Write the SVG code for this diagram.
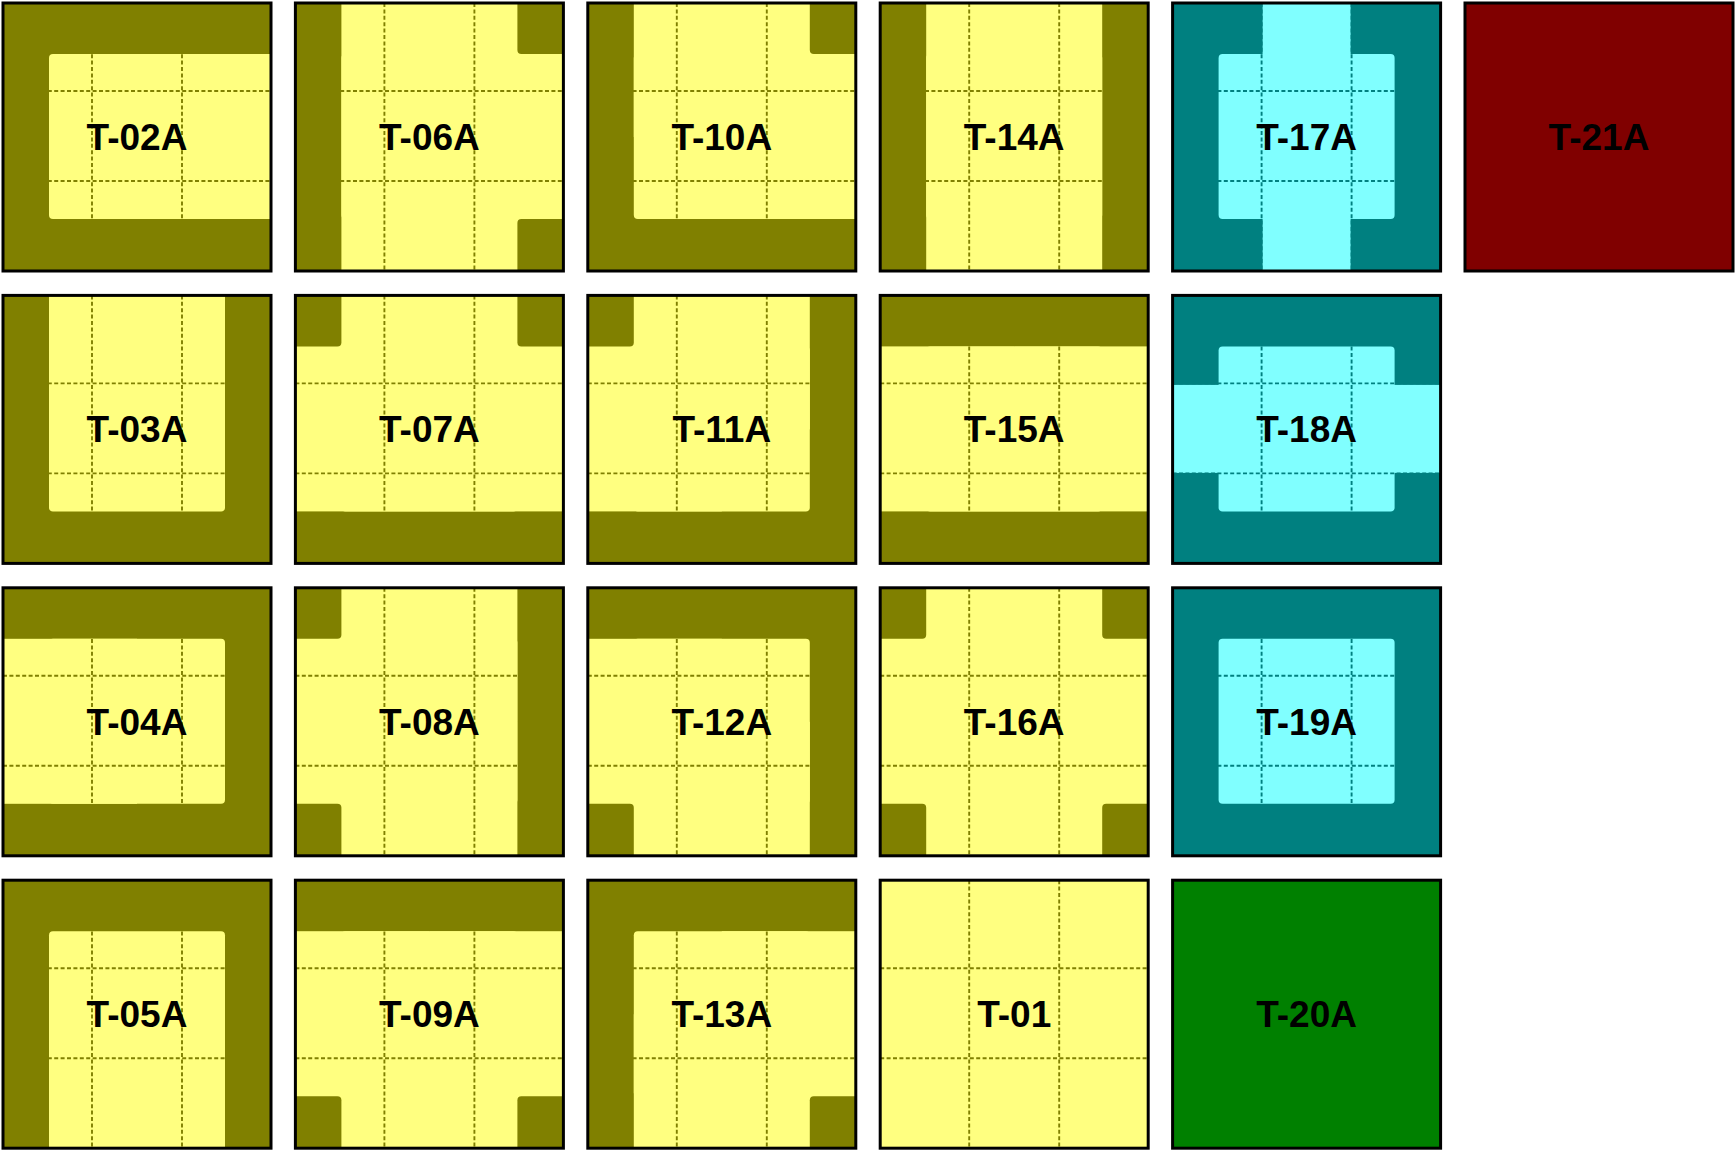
<svg xmlns="http://www.w3.org/2000/svg" xmlns:xlink="http://www.w3.org/1999/xlink" width="1736" height="1151" viewBox="0 0 1736 1151">
<style>
.dy{fill:#808000}
.ly{fill:#ffff80}
.dc{fill:#008080}
.lc{fill:#80ffff}
.mr{fill:#800000}
.gr{fill:#008000}
.gy{fill:none;stroke:#808000;stroke-width:1.9;stroke-dasharray:4 2.4}
.gc{fill:none;stroke:#008080;stroke-width:1.9;stroke-dasharray:4 2.4}
.bd{fill:none;stroke:#000;stroke-width:3}
.t{font-family:"Liberation Sans",Arial,sans-serif;font-size:37px;font-weight:bold;fill:#000;text-anchor:middle}
</style>
<defs>
<rect id="b" x="3" y="3" width="268" height="268"/>
<rect id="c" x="49" y="54" width="176" height="165" rx="4"/>
<rect id="n" x="49" y="3" width="176" height="134"/>
<rect id="s" x="49" y="137" width="176" height="134"/>
<rect id="w" x="3" y="54" width="134" height="165"/>
<rect id="e" x="137" y="54" width="134" height="165"/>
<rect id="fnw" x="3" y="3" width="60" height="60"/>
<rect id="fne" x="211" y="3" width="60" height="60"/>
<rect id="fsw" x="3" y="211" width="60" height="60"/>
<rect id="fse" x="211" y="211" width="60" height="60"/>
<path id="bnw" d="M3 3H49V50A4 4 0 0 1 45 54H3Z"/>
<path id="bne" d="M271 3H225V50A4 4 0 0 0 229 54H271Z"/>
<path id="bsw" d="M3 271H49V223A4 4 0 0 0 45 219H3Z"/>
<path id="bse" d="M271 271H225V223A4 4 0 0 1 229 219H271Z"/>
<rect id="vb" x="93" y="3" width="88" height="268"/>
<rect id="hb" x="3" y="92.5" width="268" height="88"/>
<path id="g" d="M92 3V271M182 3V271M3 91H271M3 181H271"/>
</defs>

<g id="T-02A" transform="translate(0,0)">
<use href="#b" class="dy"/><use href="#c" class="ly"/><use href="#e" class="ly"/>
<use href="#g" class="gy"/><use href="#b" class="bd"/><text x="137" y="150" class="t">T-02A</text>
</g>
<g id="T-06A" transform="translate(292.4,0)">
<use href="#b" class="dy"/><use href="#c" class="ly"/><use href="#n" class="ly"/><use href="#e" class="ly"/><use href="#s" class="ly"/>
<use href="#fne" class="ly"/><use href="#fse" class="ly"/><use href="#bne" class="dy"/><use href="#bse" class="dy"/>
<use href="#g" class="gy"/><use href="#b" class="bd"/><text x="137" y="150" class="t">T-06A</text>
</g>
<g id="T-10A" transform="translate(584.8,0)">
<use href="#b" class="dy"/><use href="#c" class="ly"/><use href="#n" class="ly"/><use href="#e" class="ly"/>
<use href="#fne" class="ly"/><use href="#bne" class="dy"/>
<use href="#g" class="gy"/><use href="#b" class="bd"/><text x="137" y="150" class="t">T-10A</text>
</g>
<g id="T-14A" transform="translate(877.2,0)">
<use href="#b" class="dy"/><use href="#c" class="ly"/><use href="#n" class="ly"/><use href="#s" class="ly"/>
<use href="#g" class="gy"/><use href="#b" class="bd"/><text x="137" y="150" class="t">T-14A</text>
</g>
<g id="T-17A" transform="translate(1169.6,0)">
<use href="#b" class="dc"/><use href="#c" class="lc"/><use href="#vb" class="lc"/>
<use href="#g" class="gc"/><use href="#b" class="bd"/><text x="137" y="150" class="t">T-17A</text>
</g>
<g id="T-21A" transform="translate(1462,0)">
<use href="#b" class="mr"/><use href="#b" class="bd"/><text x="137" y="150" class="t">T-21A</text>
</g>

<g id="T-03A" transform="translate(0,292.4)">
<use href="#b" class="dy"/><use href="#c" class="ly"/><use href="#n" class="ly"/>
<use href="#g" class="gy"/><use href="#b" class="bd"/><text x="137" y="150" class="t">T-03A</text>
</g>
<g id="T-07A" transform="translate(292.4,292.4)">
<use href="#b" class="dy"/><use href="#c" class="ly"/><use href="#w" class="ly"/><use href="#n" class="ly"/><use href="#e" class="ly"/>
<use href="#fnw" class="ly"/><use href="#fne" class="ly"/><use href="#bnw" class="dy"/><use href="#bne" class="dy"/>
<use href="#g" class="gy"/><use href="#b" class="bd"/><text x="137" y="150" class="t">T-07A</text>
</g>
<g id="T-11A" transform="translate(584.8,292.4)">
<use href="#b" class="dy"/><use href="#c" class="ly"/><use href="#n" class="ly"/><use href="#w" class="ly"/>
<use href="#fnw" class="ly"/><use href="#bnw" class="dy"/>
<use href="#g" class="gy"/><use href="#b" class="bd"/><text x="137" y="150" class="t">T-11A</text>
</g>
<g id="T-15A" transform="translate(877.2,292.4)">
<use href="#b" class="dy"/><use href="#c" class="ly"/><use href="#w" class="ly"/><use href="#e" class="ly"/>
<use href="#g" class="gy"/><use href="#b" class="bd"/><text x="137" y="150" class="t">T-15A</text>
</g>
<g id="T-18A" transform="translate(1169.6,292.4)">
<use href="#b" class="dc"/><use href="#c" class="lc"/><use href="#hb" class="lc"/>
<use href="#g" class="gc"/><use href="#b" class="bd"/><text x="137" y="150" class="t">T-18A</text>
</g>

<g id="T-04A" transform="translate(0,584.8)">
<use href="#b" class="dy"/><use href="#c" class="ly"/><use href="#w" class="ly"/>
<use href="#g" class="gy"/><use href="#b" class="bd"/><text x="137" y="150" class="t">T-04A</text>
</g>
<g id="T-08A" transform="translate(292.4,584.8)">
<use href="#b" class="dy"/><use href="#c" class="ly"/><use href="#n" class="ly"/><use href="#w" class="ly"/><use href="#s" class="ly"/>
<use href="#fnw" class="ly"/><use href="#fsw" class="ly"/><use href="#bnw" class="dy"/><use href="#bsw" class="dy"/>
<use href="#g" class="gy"/><use href="#b" class="bd"/><text x="137" y="150" class="t">T-08A</text>
</g>
<g id="T-12A" transform="translate(584.8,584.8)">
<use href="#b" class="dy"/><use href="#c" class="ly"/><use href="#w" class="ly"/><use href="#s" class="ly"/>
<use href="#fsw" class="ly"/><use href="#bsw" class="dy"/>
<use href="#g" class="gy"/><use href="#b" class="bd"/><text x="137" y="150" class="t">T-12A</text>
</g>
<g id="T-16A" transform="translate(877.2,584.8)">
<use href="#b" class="ly"/>
<use href="#bnw" class="dy"/><use href="#bne" class="dy"/><use href="#bsw" class="dy"/><use href="#bse" class="dy"/>
<use href="#g" class="gy"/><use href="#b" class="bd"/><text x="137" y="150" class="t">T-16A</text>
</g>
<g id="T-19A" transform="translate(1169.6,584.8)">
<use href="#b" class="dc"/><use href="#c" class="lc"/>
<use href="#g" class="gc"/><use href="#b" class="bd"/><text x="137" y="150" class="t">T-19A</text>
</g>

<g id="T-05A" transform="translate(0,877.2)">
<use href="#b" class="dy"/><use href="#c" class="ly"/><use href="#s" class="ly"/>
<use href="#g" class="gy"/><use href="#b" class="bd"/><text x="137" y="150" class="t">T-05A</text>
</g>
<g id="T-09A" transform="translate(292.4,877.2)">
<use href="#b" class="dy"/><use href="#c" class="ly"/><use href="#w" class="ly"/><use href="#e" class="ly"/><use href="#s" class="ly"/>
<use href="#fsw" class="ly"/><use href="#fse" class="ly"/><use href="#bsw" class="dy"/><use href="#bse" class="dy"/>
<use href="#g" class="gy"/><use href="#b" class="bd"/><text x="137" y="150" class="t">T-09A</text>
</g>
<g id="T-13A" transform="translate(584.8,877.2)">
<use href="#b" class="dy"/><use href="#c" class="ly"/><use href="#e" class="ly"/><use href="#s" class="ly"/>
<use href="#fse" class="ly"/><use href="#bse" class="dy"/>
<use href="#g" class="gy"/><use href="#b" class="bd"/><text x="137" y="150" class="t">T-13A</text>
</g>
<g id="T-01" transform="translate(877.2,877.2)">
<use href="#b" class="ly"/>
<use href="#g" class="gy"/><use href="#b" class="bd"/><text x="137" y="150" class="t">T-01</text>
</g>
<g id="T-20A" transform="translate(1169.6,877.2)">
<use href="#b" class="gr"/><use href="#b" class="bd"/><text x="137" y="150" class="t">T-20A</text>
</g>

<g id="connectors"></g>
</svg>
